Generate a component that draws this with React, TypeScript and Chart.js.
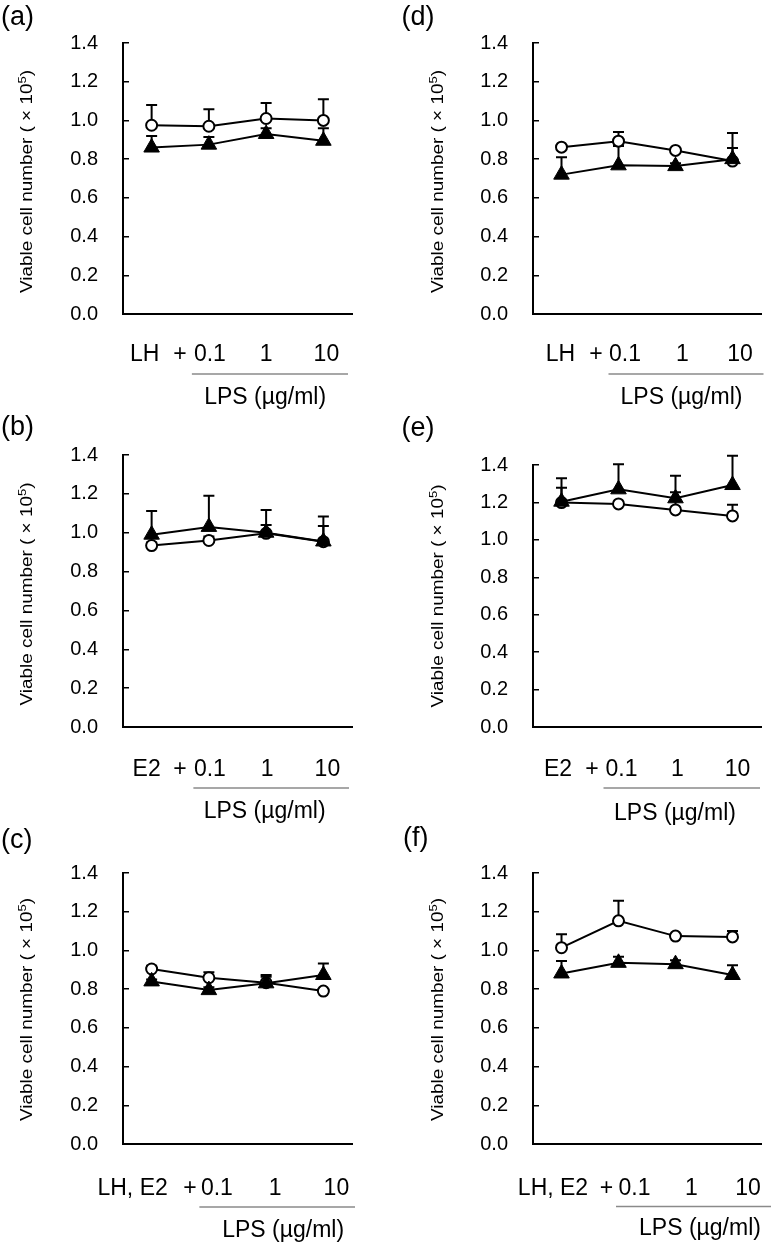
import React, { useEffect, useRef } from "react";
import { Chart, registerables } from "chart.js";

Chart.register(...registerables);

// ---------- data ----------
const doseCategories = ["0", "0.1", "1", "10"]; // hormone alone, then + LPS (µg/ml)
const doseLabels = ["0.1", "1", "10"];
const yTickValues = [0, 0.2, 0.4, 0.6, 0.8, 1.0, 1.2, 1.4];
const yTitleMain = "Viable cell number ( × 10";
const yTitleSup = "5";
const yTitleEnd = ")";
const lpsTitle = "LPS (µg/ml)";

// (a) LH
const aOpenMean = [0.975, 0.97, 1.01, 1.0];
const aOpenSd = [0.105, 0.088, 0.08, 0.11];
const aTriMean = [0.86, 0.875, 0.93, 0.895];
const aTriSd = [0.06, 0.04, 0.03, 0.065];
// (b) E2
const bOpenMean = [0.934, 0.96, 0.997, 0.954];
const bOpenSd = [0.015, 0.02, 0.043, 0.081];
const bTriMean = [0.99, 1.03, 1.0, 0.955];
const bTriSd = [0.122, 0.16, 0.117, 0.128];
// (c) LH, E2
const cOpenMean = [0.904, 0.859, 0.833, 0.79];
const cOpenSd = [0.017, 0.028, 0.04, 0.01];
const cTriMean = [0.84, 0.795, 0.83, 0.873];
const cTriSd = [0.01, 0.015, 0.034, 0.06];
// (d) LH
const dOpenMean = [0.862, 0.893, 0.845, 0.79];
const dOpenSd = [0.01, 0.047, 0.01, 0.067];
const dTriMean = [0.72, 0.768, 0.764, 0.8];
const dTriSd = [0.09, 0.1, 0.015, 0.135];
// (e) E2
const eOpenMean = [1.199, 1.192, 1.16, 1.128];
const eOpenSd = [0.08, 0.01, 0.094, 0.059];
const eTriMean = [1.204, 1.27, 1.222, 1.293];
const eTriSd = [0.125, 0.134, 0.121, 0.157];
// (f) LH, E2
const fOpenMean = [1.014, 1.153, 1.074, 1.07];
const fOpenSd = [0.07, 0.103, 0.01, 0.03];
const fTriMean = [0.881, 0.936, 0.929, 0.873];
const fTriSd = [0.064, 0.031, 0.02, 0.051];

// ---------- layout (page coordinates) ----------
const FONT = '"Liberation Sans", Arial, Helvetica, sans-serif';

type Panel = {
  letter: string;
  prefix: string;
  openMean: number[];
  openSd: number[];
  triMean: number[];
  triSd: number[];
  canvas: [number, number, number, number];
  area: [number, number, number, number];
  letterPos: [number, number];
  labelDx: number[]; // prefix, "+", 0.1, 1, 10 (relative to category centre)
  labelDy: number;
  lineDx: [number, number];
  lineDy: number;
  lpsDx: number;
  lpsDy: number;
  titleX: number;
  titleDy: number;
};

const panels: Panel[] = [
  {
    letter: "(a)", prefix: "LH",
    openMean: aOpenMean, openSd: aOpenSd, triMean: aTriMean, triSd: aTriSd,
    canvas: [0, 0, 388, 420], area: [123, 42, 352, 314], letterPos: [1, 25],
    labelDx: [-7, -29, 1, 0, 3], labelDy: 47, lineDx: [-17, -4], lineDy: 60,
    lpsDx: -1, lpsDy: 90, titleX: 32, titleDy: 3,
  },
  {
    letter: "(b)", prefix: "E2",
    openMean: bOpenMean, openSd: bOpenSd, triMean: bTriMean, triSd: bTriSd,
    canvas: [0, 405, 388, 425], area: [123, 455, 352, 727], letterPos: [1, 434.5],
    labelDx: [-5, -29, 1, 1, 4], labelDy: 48.5, lineDx: [-15.5, -3], lineDy: 61,
    lpsDx: -1.5, lpsDy: 91, titleX: 32, titleDy: 3,
  },
  {
    letter: "(c)", prefix: "LH, E2",
    openMean: cOpenMean, openSd: cOpenSd, triMean: cTriMean, triSd: cTriSd,
    canvas: [0, 815, 388, 432], area: [123, 873, 352, 1144], letterPos: [1, 847.5],
    labelDx: [-19, -19, 8, 9, 13], labelDy: 50.5, lineDx: [-9.5, 3], lineDy: 63,
    lpsDx: 17, lpsDy: 93, titleX: 32, titleDy: 1,
  },
  {
    letter: "(d)", prefix: "LH",
    openMean: dOpenMean, openSd: dOpenSd, triMean: dTriMean, triSd: dTriSd,
    canvas: [388, 0, 389, 420], area: [533, 42, 761, 314], letterPos: [401.5, 24.5],
    labelDx: [-1, -22.5, 6.5, 7, 7.5], labelDy: 47, lineDx: [-10, 2.5], lineDy: 60,
    lpsDx: 6, lpsDy: 90, titleX: 443, titleDy: 3,
  },
  {
    letter: "(e)", prefix: "E2",
    openMean: eOpenMean, openSd: eOpenSd, triMean: eTriMean, triSd: eTriSd,
    canvas: [388, 405, 389, 425], area: [533, 465, 761, 727], letterPos: [401.5, 436],
    labelDx: [-3.5, -26.5, 3, 2, 5], labelDy: 48.5, lineDx: [-15, -1], lineDy: 61,
    lpsDx: -0.5, lpsDy: 93, titleX: 443, titleDy: 0,
  },
  {
    letter: "(f)", prefix: "LH, E2",
    openMean: fOpenMean, openSd: fOpenSd, triMean: fTriMean, triSd: fTriSd,
    canvas: [388, 815, 389, 432], area: [533, 873, 761, 1144], letterPos: [403, 846],
    labelDx: [-8.5, -12, 16, 16, 15.5], labelDy: 50.5, lineDx: [-2.5, 10], lineDy: 62.5,
    lpsDx: 24.5, lpsDy: 91, titleX: 443, titleDy: 1,
  },
];

function makePlugin(p: Panel, sds: number[][]) {
  const [ox, oy] = p.canvas;
  return {
    id: "panelDecor" + p.letter,
    beforeDatasetsDraw(chart: any) {
      const ctx = chart.ctx;
      const ys = chart.scales.y;
      ctx.save();
      ctx.strokeStyle = "#000";
      ctx.lineWidth = 2;
      chart.data.datasets.forEach((ds: any, di: number) => {
        const meta = chart.getDatasetMeta(di);
        meta.data.forEach((pt: any, i: number) => {
          const v = ds.data[i];
          const top = ys.getPixelForValue(v + sds[di][i]);
          ctx.beginPath();
          ctx.moveTo(pt.x, pt.y);
          ctx.lineTo(pt.x, top);
          ctx.moveTo(pt.x - 5.5, top);
          ctx.lineTo(pt.x + 5.5, top);
          ctx.stroke();
        });
      });
      ctx.restore();
    },
    afterDraw(chart: any) {
      const ctx = chart.ctx;
      const xs = chart.scales.x;
      const ca = chart.chartArea;
      ctx.save();
      ctx.fillStyle = "#000";
      ctx.textBaseline = "alphabetic";
      // panel letter
      ctx.font = `27px ${FONT}`;
      ctx.textAlign = "left";
      ctx.fillText(p.letter, p.letterPos[0] - ox, p.letterPos[1] - oy);
      // x labels
      ctx.font = `23px ${FONT}`;
      ctx.textAlign = "center";
      const by = ca.bottom + p.labelDy;
      ctx.fillText(p.prefix, xs.getPixelForValue(0) + p.labelDx[0], by);
      ctx.fillText("+", xs.getPixelForValue(1) + p.labelDx[1], by);
      doseLabels.forEach((t, i) => {
        ctx.fillText(t, xs.getPixelForValue(i + 1) + p.labelDx[i + 2], by);
      });
      // grey bracket line
      ctx.strokeStyle = "#8a8a8a";
      ctx.lineWidth = 1.5;
      ctx.beginPath();
      ctx.moveTo(xs.getPixelForValue(1) + p.lineDx[0], ca.bottom + p.lineDy);
      ctx.lineTo(ca.right + p.lineDx[1], ca.bottom + p.lineDy);
      ctx.stroke();
      // LPS title
      ctx.fillText(lpsTitle, xs.getPixelForValue(2) + p.lpsDx, ca.bottom + p.lpsDy);
      // y title (rotated)
      ctx.save();
      ctx.translate(p.titleX - ox, (ca.top + ca.bottom) / 2 + p.titleDy);
      ctx.rotate(-Math.PI / 2);
      ctx.font = `16px ${FONT}`;
      const w1 = ctx.measureText(yTitleMain).width;
      const w3 = ctx.measureText(yTitleEnd).width;
      ctx.font = `11px ${FONT}`;
      const w2 = ctx.measureText(yTitleSup).width;
      const total = w1 + w2 + w3;
      const k = 223 / total;
      ctx.scale(k, 1);
      ctx.textAlign = "left";
      let x = -total / 2;
      ctx.font = `16px ${FONT}`;
      ctx.fillText(yTitleMain, x, 0);
      x += w1;
      ctx.font = `11px ${FONT}`;
      ctx.fillText(yTitleSup, x, -6.5);
      x += w2;
      ctx.font = `16px ${FONT}`;
      ctx.fillText(yTitleEnd, x, 0);
      ctx.restore();
      ctx.restore();
    },
  };
}

function PanelChart({ p }: { p: Panel }) {
  const ref = useRef<HTMLCanvasElement>(null);
  useEffect(() => {
    const canvas = ref.current;
    if (!canvas) return;
    const [ox, oy, cw, ch] = p.canvas;
    const [L, T, R, B] = p.area;
    const chart = new Chart(canvas, {
      type: "line",
      data: {
        labels: doseCategories,
        datasets: [
          {
            label: "closed triangles",
            data: p.triMean,
            borderColor: "#000",
            borderWidth: 2,
            pointStyle: "triangle",
            pointRadius: 9,
            pointBackgroundColor: "#000",
            pointBorderColor: "#000",
            pointBorderWidth: 1,
            tension: 0,
            fill: false,
          },
          {
            label: "open circles",
            data: p.openMean,
            borderColor: "#000",
            borderWidth: 2,
            pointStyle: "circle",
            pointRadius: 5.5,
            pointBackgroundColor: "#fff",
            pointBorderColor: "#000",
            pointBorderWidth: 2,
            tension: 0,
            fill: false,
          },
        ],
      },
      options: {
        responsive: false,
        maintainAspectRatio: false,
        animation: false,
        events: [],
        layout: { padding: { left: 0, top: T - oy, right: cw - (R - ox), bottom: 0 } },
        plugins: { legend: { display: false }, tooltip: { enabled: false } },
        scales: {
          x: {
            type: "category",
            offset: true,
            grid: { display: false },
            border: { display: true, color: "#000", width: 2 },
            ticks: { display: false },
            afterFit: (s: any) => {
              s.height = oy + ch - B;
            },
          },
          y: {
            min: yTickValues[0],
            max: yTickValues[yTickValues.length - 1],
            ticks: {
              stepSize: 0.2,
              color: "#000",
              padding: 31,
              font: { family: FONT, size: 20 },
              callback: (v: any) => Number(v).toFixed(1),
            },
            grid: { drawOnChartArea: false, drawTicks: true, tickLength: -6, color: "#000", lineWidth: 1.5 },
            border: { display: true, color: "#000", width: 2 },
            afterFit: (s: any) => {
              s.width = L - ox;
            },
          },
        },
      } as any,
      plugins: [makePlugin(p, [p.triSd, p.openSd])],
    });
    return () => chart.destroy();
  }, [p]);
  const [ox, oy, cw, ch] = p.canvas;
  return (
    <canvas
      ref={ref}
      width={cw}
      height={ch}
      style={{ position: "absolute", left: ox, top: oy, width: cw, height: ch, display: "block" }}
    />
  );
}

export default function App() {
  return (
    <div style={{ position: "absolute", left: 0, top: 0, width: 777, height: 1247, background: "#fff" }}>
      {panels.map((p) => (
        <PanelChart key={p.letter} p={p} />
      ))}
    </div>
  );
}
